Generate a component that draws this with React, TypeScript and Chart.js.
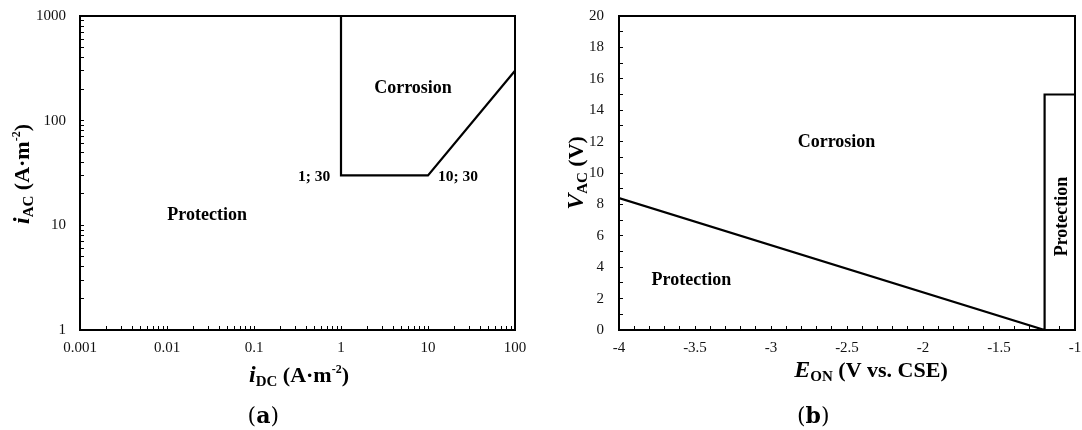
import React, { useEffect, useRef } from 'react';
import { Chart, registerables } from 'chart.js';

Chart.register(...registerables);

// ---------- Panel (a): i_AC vs i_DC (log–log) ----------
const idcBoundary = [1, 1, 10, 100];
const iacBoundary = [1000, 30, 30, 300];
const idcDecades = [0.001, 0.01, 0.1, 1, 10, 100];
const iacDecades = [1, 10, 100, 1000];
const logMinorSignificands = [2, 3, 4, 5, 6, 7, 8, 9];
const regionLabelsA = ['Corrosion', 'Protection'];
const regionLabelAX = [6.73, 0.0289];
const regionLabelAY = [182, 11.2];
const pointLabelsA = ['1; 30', '10; 30'];
const pointLabelAX = [0.49, 22.1];
const pointLabelAY = [26.7, 26.7];

// ---------- Panel (b): V_AC vs E_ON ----------
const eonBoundary = [-4, -1.2, -1.2, -1];
const vacBoundary = [8.4, 0, 15, 15];
const eonMajorTicks = [-4, -3.5, -3, -2.5, -2, -1.5, -1];
const eonMinorPerMajor = 5;
const vacMajorTicks = [0, 2, 4, 6, 8, 10, 12, 14, 16, 18, 20];
const vacMinorPerMajor = 2;
const regionLabelsB = ['Corrosion', 'Protection', 'Protection'];
const regionLabelBX = [-2.569, -3.524, -1.055];
const regionLabelBY = [11.66, 2.86, 7.23];
const regionLabelBVertical = [false, false, true];

const SERIF = '"Liberation Serif", "Times New Roman", serif';
const CAPTION_FONT = '"DejaVu Serif", serif';

type Part = { text: string; font: string; dy: number };

function drawRich(ctx: CanvasRenderingContext2D, parts: Part[], x: number, y: number, vertical: boolean) {
  ctx.save();
  ctx.translate(x, y);
  if (vertical) ctx.rotate(-Math.PI / 2);
  ctx.fillStyle = '#000';
  ctx.textBaseline = 'alphabetic';
  ctx.textAlign = 'left';
  let total = 0;
  const widths = parts.map((p) => {
    ctx.font = p.font;
    const w = ctx.measureText(p.text).width;
    total += w;
    return w;
  });
  let cx = -total / 2;
  parts.forEach((p, i) => {
    ctx.font = p.font;
    ctx.fillText(p.text, cx, p.dy);
    cx += widths[i];
  });
  ctx.restore();
}

const VAR = `italic bold 24px ${SERIF}`;
const SUB = `bold 15px ${SERIF}`;
const MAIN = `bold 22px ${SERIF}`;
const SUP = `bold 12px ${SERIF}`;
const CAP = `22px ${CAPTION_FONT}`;
const CAP_BOLD = `bold 22px ${CAPTION_FONT}`;

function logTicks(decades: number[]) {
  const out: { value: number; major: boolean }[] = [];
  decades.forEach((d, i) => {
    out.push({ value: d, major: true });
    if (i < decades.length - 1) {
      logMinorSignificands.forEach((s) => out.push({ value: parseFloat((d * s).toPrecision(6)), major: false }));
    }
  });
  return out;
}

function linTicks(majors: number[], perMajor: number) {
  const out: { value: number; major: boolean }[] = [];
  majors.forEach((m, i) => {
    out.push({ value: m, major: true });
    if (i < majors.length - 1) {
      const step = (majors[i + 1] - m) / perMajor;
      for (let k = 1; k < perMajor; k++) out.push({ value: parseFloat((m + k * step).toFixed(6)), major: false });
    }
  });
  return out;
}

const majorLabel = (v: any, i: number, t: any[]) => (t[i] && t[i].major ? String(v) : '');

const framePlugin = {
  id: 'frame',
  afterDatasetsDraw(chart: any) {
    const { ctx, chartArea: a } = chart;
    ctx.save();
    ctx.strokeStyle = '#000';
    ctx.lineWidth = 2;
    ctx.strokeRect(a.left, a.top, a.right - a.left, a.bottom - a.top);
    ctx.restore();
  },
};

function fixSize(prop: 'width' | 'height', size: number) {
  return (s: any) => {
    s[prop] = size;
    s.paddingTop = 0;
    s.paddingBottom = 0;
    s.paddingLeft = 0;
    s.paddingRight = 0;
  };
}

function axisOpts(extra: any) {
  return {
    grid: { drawOnChartArea: false, drawTicks: true, tickLength: -4, tickColor: '#000', tickWidth: 1 },
    border: { display: false },
    ...extra,
  };
}

function tickFont() {
  return { family: SERIF, size: 15 };
}

function boundaryDataset(xs: number[], ys: number[]) {
  return {
    data: xs.map((x, i) => ({ x, y: ys[i] })),
    showLine: true,
    borderColor: '#000',
    borderWidth: 2.2,
    pointRadius: 0,
    tension: 0,
    fill: false,
  };
}

function configA() {
  const textPlugin = {
    id: 'textA',
    afterDraw(chart: any) {
      const { ctx, scales } = chart;
      const xs = scales.x;
      const ys = scales.y;
      regionLabelsA.forEach((t, i) => {
        drawRich(ctx, [{ text: t, font: `bold 18px ${SERIF}`, dy: 0 }], xs.getPixelForValue(regionLabelAX[i]), ys.getPixelForValue(regionLabelAY[i]), false);
      });
      pointLabelsA.forEach((t, i) => {
        drawRich(ctx, [{ text: t, font: `bold 15.5px ${SERIF}`, dy: 0 }], xs.getPixelForValue(pointLabelAX[i]), ys.getPixelForValue(pointLabelAY[i]), false);
      });
      const a = chart.chartArea;
      drawRich(ctx, [
        { text: 'i', font: VAR, dy: 0 },
        { text: 'DC', font: SUB, dy: 4 },
        { text: ' (A·m', font: MAIN, dy: 0 },
        { text: '-2', font: SUP, dy: -9 },
        { text: ')', font: MAIN, dy: 0 },
      ], (a.left + a.right) / 2 + 1.5, a.bottom + 52, false);
      drawRich(ctx, [
        { text: 'i', font: VAR, dy: 0 },
        { text: 'AC', font: SUB, dy: 4 },
        { text: ' (A·m', font: MAIN, dy: 0 },
        { text: '-2', font: SUP, dy: -9 },
        { text: ')', font: MAIN, dy: 0 },
      ], 28.5, (a.top + a.bottom) / 2 + 1, true);
      drawRich(ctx, [
        { text: '(', font: CAP, dy: 0 },
        { text: 'a', font: CAP_BOLD, dy: 0 },
        { text: ')', font: CAP, dy: 0 },
      ], 263.3, 423, false);
    },
  };
  return {
    type: 'scatter',
    data: { datasets: [boundaryDataset(idcBoundary, iacBoundary)] },
    options: {
      responsive: false,
      animation: false,
      devicePixelRatio: 1,
      layout: { padding: { left: 0, right: 26, top: 16, bottom: 0 } },
      plugins: { legend: { display: false }, tooltip: { enabled: false } },
      scales: {
        x: axisOpts({
          type: 'logarithmic',
          min: 0.001,
          max: 100,
          afterBuildTicks: (s: any) => { s.ticks = logTicks(idcDecades); },
          afterFit: fixSize('height', 100),
          ticks: { autoSkip: false, maxRotation: 0, minRotation: 0, padding: 13, color: '#111', font: tickFont(), callback: majorLabel },
        }),
        y: axisOpts({
          type: 'logarithmic',
          min: 1,
          max: 1000,
          afterBuildTicks: (s: any) => { s.ticks = logTicks(iacDecades); },
          afterFit: fixSize('width', 80),
          ticks: { autoSkip: false, padding: 18, color: '#111', font: tickFont(), callback: majorLabel },
        }),
      },
    },
    plugins: [framePlugin, textPlugin],
  };
}

function configB() {
  const textPlugin = {
    id: 'textB',
    afterDraw(chart: any) {
      const { ctx, scales } = chart;
      const xs = scales.x;
      const ys = scales.y;
      regionLabelsB.forEach((t, i) => {
        drawRich(ctx, [{ text: t, font: `bold 18px ${SERIF}`, dy: 0 }], xs.getPixelForValue(regionLabelBX[i]), ys.getPixelForValue(regionLabelBY[i]), regionLabelBVertical[i]);
      });
      const a = chart.chartArea;
      drawRich(ctx, [
        { text: 'E', font: VAR, dy: 0 },
        { text: 'ON', font: SUB, dy: 4 },
        { text: ' (V vs. CSE)', font: MAIN, dy: 0 },
      ], 330, a.bottom + 47, false);
      drawRich(ctx, [
        { text: 'V', font: VAR, dy: 0 },
        { text: 'AC', font: SUB, dy: 4 },
        { text: ' (V)', font: MAIN, dy: 0 },
      ], 42, (a.top + a.bottom) / 2, true);
      drawRich(ctx, [
        { text: '(', font: CAP, dy: 0 },
        { text: 'b', font: CAP_BOLD, dy: 0 },
        { text: ')', font: CAP, dy: 0 },
      ], 272.3, 423, false);
    },
  };
  return {
    type: 'scatter',
    data: { datasets: [boundaryDataset(eonBoundary, vacBoundary)] },
    options: {
      responsive: false,
      animation: false,
      devicePixelRatio: 1,
      layout: { padding: { left: 0, right: 7, top: 16, bottom: 0 } },
      plugins: { legend: { display: false }, tooltip: { enabled: false } },
      scales: {
        x: axisOpts({
          type: 'linear',
          min: -4,
          max: -1,
          afterBuildTicks: (s: any) => { s.ticks = linTicks(eonMajorTicks, eonMinorPerMajor); },
          afterFit: fixSize('height', 100),
          ticks: { autoSkip: false, maxRotation: 0, minRotation: 0, padding: 13, color: '#111', font: tickFont(), callback: majorLabel },
        }),
        y: axisOpts({
          type: 'linear',
          min: 0,
          max: 20,
          afterBuildTicks: (s: any) => { s.ticks = linTicks(vacMajorTicks, vacMinorPerMajor); },
          afterFit: fixSize('width', 78),
          ticks: { autoSkip: false, padding: 19, color: '#111', font: tickFont(), callback: majorLabel },
        }),
      },
    },
    plugins: [framePlugin, textPlugin],
  };
}

function Panel({ make }: { make: () => any }) {
  const ref = useRef<HTMLCanvasElement | null>(null);
  useEffect(() => {
    if (!ref.current) return;
    const chart = new Chart(ref.current, make());
    return () => chart.destroy();
  }, [make]);
  return <canvas ref={ref} width={541} height={430} style={{ display: 'block', width: 541, height: 430 }} />;
}

export default function App() {
  return (
    <div style={{ position: 'absolute', left: 0, top: 0, width: 1082, height: 430, display: 'flex', background: '#fff' }}>
      <Panel make={configA} />
      <Panel make={configB} />
    </div>
  );
}
